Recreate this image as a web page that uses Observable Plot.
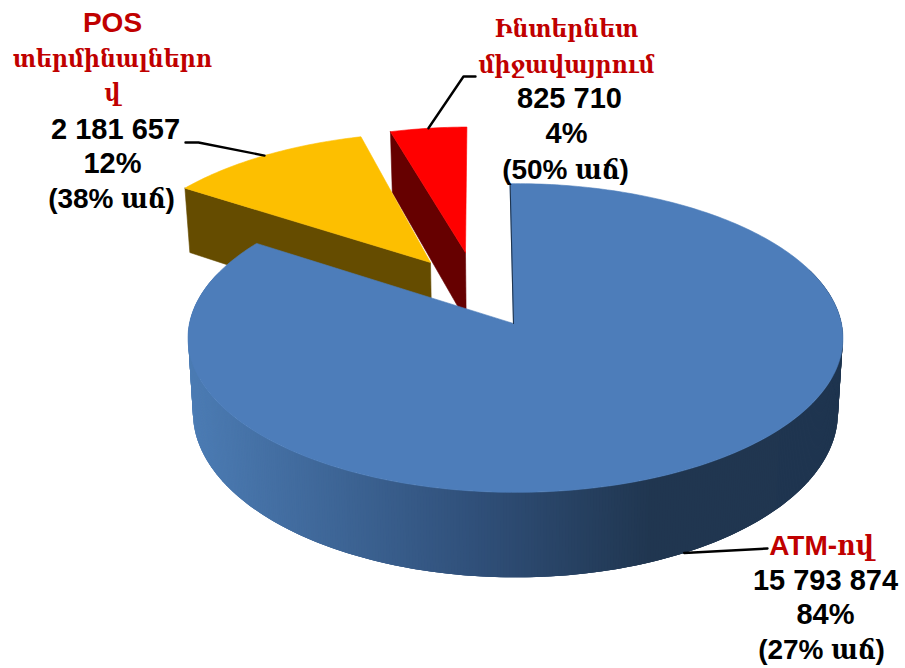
<!DOCTYPE html>
<html lang="hy">
<head>
<meta charset="utf-8">
<style>html,body{margin:0;padding:0;background:#fff}svg{display:block}</style>
<script src="https://cdn.jsdelivr.net/npm/d3@7"></script>
<script src="https://cdn.jsdelivr.net/npm/@observablehq/plot@0.6"></script>
</head>
<body>
<script>
// ---- data ----
const categories = ["ATM-ով", "POS տերմինալներով", "Ինտերնետ միջավայրում"];
const values = [15793874, 2181657, 825710];
const valueLabels = ["15 793 874", "2 181 657", "825 710"];
const shareLabels = ["84%", "12%", "4%"];
const growthLabels = ["(27% աճ)", "(38% աճ)", "(50% աճ)"];
const nameLines = [["ATM-ով"], ["POS", "տերմինալներո", "վ"], ["Ինտերնետ", "միջավայրում"]];

// ---- styling and layout ----
const topColors = ["#4d7dba", "#fdbf00", "#ff0000"];
const wallColors = [null, "#654c00", "#660000"];
const labelRed = "#c00000";
const explode = [[0, 0], [-0.2645, -0.414], [-0.154, -0.485]];
const rimShift = [0.006, 0, 0];
const radius = [1, 1, 0.975];
const angleBump = [[-0.5, 1.5], [1.5, 1], [0, 0]];
const labelX = [[821, 825, 825, 821], [112, 112, 112, 115, 112, 111], [566, 566, 569, 566, 565]];
const labelBase = [[554, 589, 623, 658], [31, 66, 100, 138, 172, 207], [36, 72, 107, 142, 178]];
const leaderEnds = [[[767, 548]], [[198, 142], [185, 142]], [[463, 76], [475, 76]]];
const nameSizes = [[28], [28, 24.5, 24.5], [24.5, 24.5]];
const bodySize = 29;
const growthSize = 28;

// ---- pie in a simple perspective ----
const cx = 513, cy = 323, a = 326, b = 153, p = 0.0939, H = 73.3, shrink = 0.015;
const project = (X, Z, Y = 0) => {
  const w = 1 / (1 - p * Z);
  return {x: cx + a * X * w * (1 - shrink * Y), y: cy + b * Z * w + H * Y * Math.pow(w, 1.5)};
};
const rad = d3.scaleLinear().domain([0, 360]).range([0, 2 * Math.PI]);
const total = d3.sum(values);
let acc = -0.5;
const slices = values.map((v, i) => {
  const start = acc, end = acc + v / total * 360;
  acc = end;
  return {i, start: start + angleBump[i][0], end: end + angleBump[i][1],
    ox: explode[i][0], oz: explode[i][1], r: radius[i], shift: rimShift[i]};
});
const rim = (s, deg, Y = 0) => project(s.ox + s.shift + s.r * Math.sin(rad(deg)), s.oz - s.r * Math.cos(rad(deg)), Y);
const apex = (s, Y = 0) => project(s.ox, s.oz, Y);
const topPolygon = s => {
  const pts = [apex(s)];
  const n = Math.ceil(s.end - s.start);
  for (let k = 0; k <= n; k++) pts.push(rim(s, s.start + (s.end - s.start) * k / n));
  pts.push(apex(s));
  return pts;
};
const wallPolygon = s => [rim(s, s.start), apex(s), apex(s, 1), rim(s, s.start, 1), rim(s, s.start)];

// blue rim: a fan of thin overlapping quads whose colour follows the horizontal position
const sideColor = d3.scaleLinear().domain([187, 470, 650, 905])
  .range(["#4c7cb4", "#30507a", "#203650", "#1f3550"]).clamp(true);
const sideQuads = [];
for (let deg = 289.5; deg >= 70; deg -= 0.5) {
  const s = slices[0];
  const q = [rim(s, deg), rim(s, deg - 1.5), rim(s, deg - 1.5, 1), rim(s, deg, 1), rim(s, deg)];
  const color = sideColor(q[0].x);
  q.forEach(pt => sideQuads.push({...pt, id: deg, color}));
}

// ---- labels ----
const labels = [];
values.forEach((v, i) => {
  const lines = [...nameLines[i].map((t, k) => [t, labelRed, nameSizes[i][k]]),
    [valueLabels[i], "#000", bodySize], [shareLabels[i], "#000", bodySize], [growthLabels[i], "#000", growthSize]];
  lines.forEach(([text, fill, size], k) =>
    labels.push({text, fill, size, x: labelX[i][k], y: labelBase[i][k] - 0.32 * size}));
});

// leaders reach the middle of each slice's outer edge
const leaders = slices.map(s => {
  const mid = (s.start + s.end) / 2;
  const from = s.i === 0 ? rim(s, mid, 1) : rim(s, mid);
  return [from, ...leaderEnds[s.i].map(([x, y]) => ({x, y}))];
});

const poly = (pts, fill) => Plot.line(pts, {x: "x", y: "y", fill, stroke: fill, strokeWidth: 0.6, curve: "linear"});

const chart = Plot.plot({
  width: 905, height: 668,
  marginTop: 0, marginRight: 0, marginBottom: 0, marginLeft: 0,
  x: {domain: [0, 905], range: [0, 905], axis: null},
  y: {domain: [0, 668], range: [0, 668], axis: null},
  color: {type: "identity"},
  style: {background: "#fff"},
  marks: [
    poly(wallPolygon(slices[2]), wallColors[2]),
    poly(topPolygon(slices[2]), topColors[2]),
    poly(wallPolygon(slices[1]), wallColors[1]),
    poly(topPolygon(slices[1]), topColors[1]),
    Plot.line(sideQuads, {x: "x", y: "y", z: "id", fill: "color", stroke: "none", curve: "linear"}),
    poly(topPolygon(slices[0]), topColors[0]),
    Plot.line([apex(slices[0]), rim(slices[0], slices[0].start)], {x: "x", y: "y", stroke: "#1f3550", strokeWidth: 1.1}),
    ...leaders.map(l => Plot.line(l, {x: "x", y: "y", stroke: "#000", strokeWidth: 2.4, curve: "linear"})),
    Plot.text(labels, {
      x: "x", y: "y", text: "text", fill: "fill", fontSize: "size",
      fontWeight: 700, textAnchor: "middle",
      fontFamily: "'Liberation Sans', 'DejaVu Serif Condensed', 'DejaVu Serif', sans-serif"
    })
  ]
});
document.body.appendChild(chart);
</script>
</body>
</html>
